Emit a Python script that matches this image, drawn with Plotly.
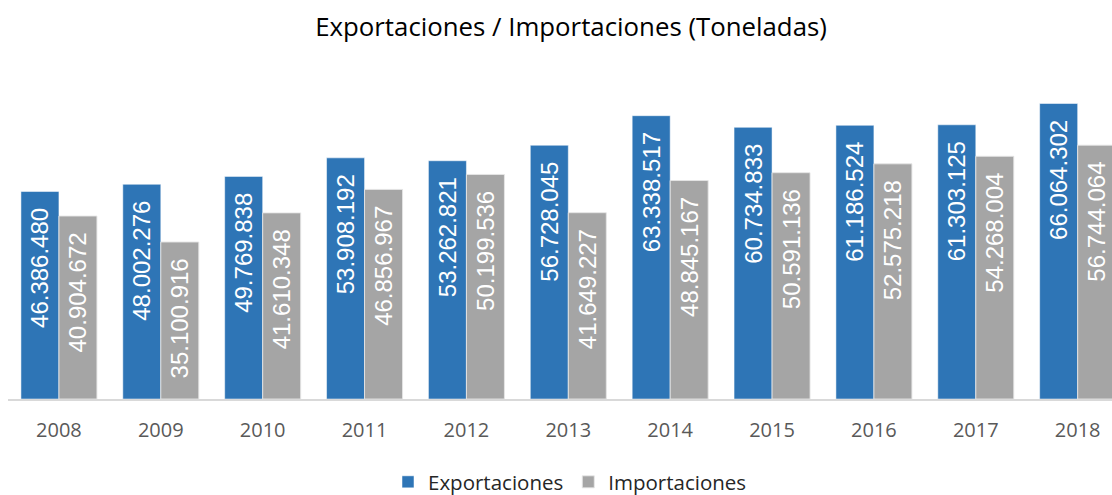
import plotly.graph_objects as go

years = ["2008", "2009", "2010", "2011", "2012", "2013", "2014", "2015", "2016", "2017", "2018"]
exportaciones = [46386480, 48002276, 49769838, 53908192, 53262821, 56728045,
                 63338517, 60734833, 61186524, 61303125, 66064302]
importaciones = [40904672, 35100916, 41610348, 46856967, 50199536, 41649227,
                 48845167, 50591136, 52575218, 54268004, 56744064]

def fmt(v):
    return f"{v:,}".replace(",", ".") + "\u00a0\u00a0"

fig = go.Figure()
fig.add_trace(go.Bar(
    name="Exportaciones", x=years, y=exportaciones,
    text=[fmt(v) for v in exportaciones],
    marker=dict(color="#2E75B6", line=dict(color="rgba(255,255,255,0.5)", width=1)),
))
fig.add_trace(go.Bar(
    name="Importaciones", x=years, y=importaciones,
    text=[fmt(v) for v in importaciones],
    marker=dict(color="#A5A5A5", line=dict(color="rgba(230,230,230,0.9)", width=1)),
))
fig.update_traces(
    textposition="inside", insidetextanchor="end", textangle=-90,
    textfont=dict(family="Liberation Sans, Arial", size=24, color="#FFFFFF"),
    hoverinfo="skip",
)

fig.update_layout(
    width=1112, height=495,
    margin=dict(l=8, r=0, t=60, b=96, autoexpand=False),
    paper_bgcolor="white", plot_bgcolor="white",
    barmode="group", bargap=0.254, bargroupgap=0,
    title=dict(text="Exportaciones / Importaciones (Toneladas)",
               x=0.51, xref="paper", xanchor="center",
               y=1 - 27 / 495, yanchor="middle",
               font=dict(family="Open Sans", size=25.8, color="#000000")),
    xaxis=dict(range=[-0.5, 10.337], showline=True, linecolor="#D9D9D9", linewidth=2,
               ticks="outside", ticklen=0, ticklabelstandoff=12,
               tickfont=dict(family="Open Sans", size=20, color="#595959"),
               showgrid=False, zeroline=False, automargin=False),
    yaxis=dict(range=[0, 75.79e6], visible=False, showgrid=False, zeroline=False),
    legend=dict(orientation="h", x=(388 - 8) / 1104, xanchor="left",
                yref="container", y=1 - 482 / 495, yanchor="middle",
                font=dict(family="Open Sans", size=20.5, color="#262626"),
                traceorder="normal", itemwidth=30),
    showlegend=True,
)

fig.write_html("out.html", config={"displayModeBar": False},
               post_script="document.body.style.margin='0px';document.body.style.overflow='hidden';")
